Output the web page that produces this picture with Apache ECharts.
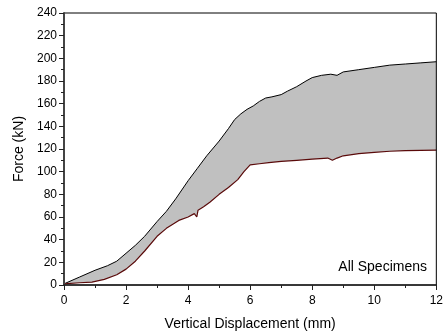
<!DOCTYPE html>
<html><head><meta charset="utf-8">
<script src="https://cdn.jsdelivr.net/npm/echarts@6/dist/echarts.min.js"></script>
<style>html,body{margin:0;padding:0;background:#fff}#c{width:446px;height:336px}</style>
</head><body><div id="c"></div>
<script>
var upperX = [0,0.5,1,1.4,1.7,2,2.3,2.6,3,3.3,3.6,4,4.3,4.6,5,5.3,5.5,5.7,5.9,6.1,6.3,6.5,6.7,7,7.2,7.5,7.8,8,8.3,8.6,8.8,9,9.5,10,10.5,11,11.5,12];
var upperY = [1,7,13,17,21,28,35,43,56,65,76,92,103,114,127,138,146,151,155,158,162,165,166,168,171,175,180,183,185,186,185,188,190,192,194,195,196,197];
var lowerX = [0,0.5,0.9,1.3,1.7,2,2.3,2.6,3,3.3,3.7,4,4.2,4.28,4.32,4.5,4.7,5,5.3,5.6,5.8,6,6.3,6.6,7,7.5,8,8.5,8.65,8.8,9,9.5,10,10.5,11,11.5,12];
var lowerY = [1,2,2.5,5,9,14,21,30,43,50,57,60,63,60,66,69,73,80,86,93,100,106,107,108,109,110,111,112,110,112,114,116,117,118,118.5,118.8,119];
var xTicks = [0,2,4,6,8,10,12];
var yTicks = [0,20,40,60,80,100,120,140,160,180,200,220,240];

function zip(a,b){return a.map(function(v,i){return [v,b[i]];});}
var F = 'Liberation Sans, Arial, sans-serif';
var chart = echarts.init(document.getElementById('c'), null, {renderer:'canvas'});
chart.setOption({
  animation:false,
  backgroundColor:'#fff',
  grid:{left:64,right:6,top:13,bottom:47,show:true,borderColor:'#000',borderWidth:1,z:5},
  xAxis:{type:'value',min:xTicks[0],max:xTicks[xTicks.length-1],interval:2,z:5,
    name:'Vertical Displacement (mm)',nameLocation:'middle',nameGap:32,
    nameTextStyle:{fontFamily:F,fontSize:14,color:'#000'},
    axisLine:{lineStyle:{color:'#222',width:1.5}},
    axisTick:{show:true,inside:false,length:5,lineStyle:{color:'#222'}},
    minorTick:{show:true,splitNumber:2,length:3,lineStyle:{color:'#222'}},
    axisLabel:{fontFamily:F,fontSize:12,color:'#000',margin:10},
    splitLine:{show:false}},
  yAxis:{type:'value',min:yTicks[0],max:yTicks[yTicks.length-1],interval:20,z:5,
    name:'Force (kN)',nameLocation:'middle',nameGap:38,
    nameTextStyle:{fontFamily:F,fontSize:14,color:'#000'},
    axisLine:{lineStyle:{color:'#444',width:2}},
    axisTick:{show:true,inside:false,length:5,lineStyle:{color:'#222'}},
    minorTick:{show:true,splitNumber:2,length:3,lineStyle:{color:'#222'}},
    axisLabel:{fontFamily:F,fontSize:12,color:'#000',margin:7},
    splitLine:{show:false}},
  graphic:[{type:'text',z:100,right:19,top:260,style:{text:'All Specimens',font:'14px '+F,fill:'#000'}}],
  series:[
    {type:'line',data:zip(upperX,upperY),symbol:'none',z:1,
      lineStyle:{color:'#000',width:1},areaStyle:{color:'#c0c0c0',opacity:1}},
    {type:'line',data:zip(lowerX,lowerY),symbol:'none',z:2,
      lineStyle:{color:'#5a0a0a',width:1.2},areaStyle:{color:'#ffffff',opacity:1}}
  ]
});
</script></body></html>
